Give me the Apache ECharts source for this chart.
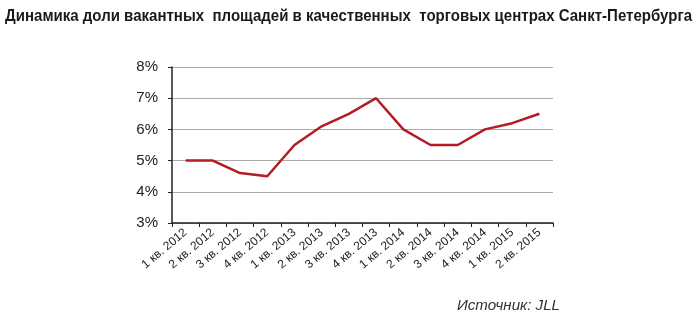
<!DOCTYPE html>
<html><head><meta charset="utf-8">
<script src="https://cdn.jsdelivr.net/npm/echarts@6/dist/echarts.min.js"></script>
<style>html,body{margin:0;padding:0;background:#fff}#c{width:700px;height:330px}</style>
</head><body><div id="c"></div>
<script>
const categories = ['1 кв. 2012','2 кв. 2012','3 кв. 2012','4 кв. 2012','1 кв. 2013','2 кв. 2013','3 кв. 2013','4 кв. 2013','1 кв. 2014','2 кв. 2014','3 кв. 2014','4 кв. 2014','1 кв. 2015','2 кв. 2015'];
const vacancy = [5.0, 5.0, 4.6, 4.5, 5.5, 6.1, 6.5, 7.0, 6.0, 5.5, 5.5, 6.0, 6.2, 6.5];
const titleText = 'Динамика доли вакантных  площадей в качественных  торговых центрах Санкт-Петербурга';
const sourceText = 'Источник: JLL';

const titleFont = 'bold 17px "Liberation Sans", Arial';
const ctx = document.createElement('canvas').getContext('2d');
ctx.font = titleFont;
const titleW = ctx.measureText(titleText).width;
const titleScale = 687 / titleW;

const srcFont = 'italic 15px "Liberation Sans", Arial';
ctx.font = srcFont;
const srcW = ctx.measureText(sourceText).width;
const srcScale = 103 / srcW;

const chart = echarts.init(document.getElementById('c'));
chart.setOption({
  animation: false,
  graphic: [{
    type: 'text', left: 5, top: 8, scaleX: titleScale, originX: 0,
    style: {text: titleText, font: titleFont, fill: '#1a1a1a'}
  }, {
    type: 'text', left: 457, top: 298, scaleX: srcScale, originX: 0,
    style: {text: sourceText, font: srcFont, fill: '#333'}
  }],
  grid: {left: 172, right: 147, top: 67, bottom: 107},
  xAxis: {
    type: 'category', data: categories, boundaryGap: true,
    axisLine: {lineStyle: {color: '#222', width: 1.5}},
    axisTick: {show: true, length: 4, inside: false, lineStyle: {color: '#222'}},
    axisLabel: {rotate: 40, fontFamily: 'Liberation Sans, Arial', fontSize: 12, color: '#222', margin: 8, interval: 0}
  },
  yAxis: {
    type: 'value', min: 3, max: 8, interval: 1,
    axisLine: {show: true, lineStyle: {color: '#222', width: 1.5}},
    axisTick: {show: true, length: 4, lineStyle: {color: '#222'}},
    splitLine: {lineStyle: {color: '#aaa', width: 1}},
    axisLabel: {formatter: '{value}%', fontFamily: 'Liberation Sans, Arial', fontSize: 15, color: '#222', margin: 14}
  },
  series: [{
    type: 'line', data: vacancy, symbol: 'none',
    lineStyle: {color: '#b31b25', width: 2.5}
  }]
});
</script></body></html>
